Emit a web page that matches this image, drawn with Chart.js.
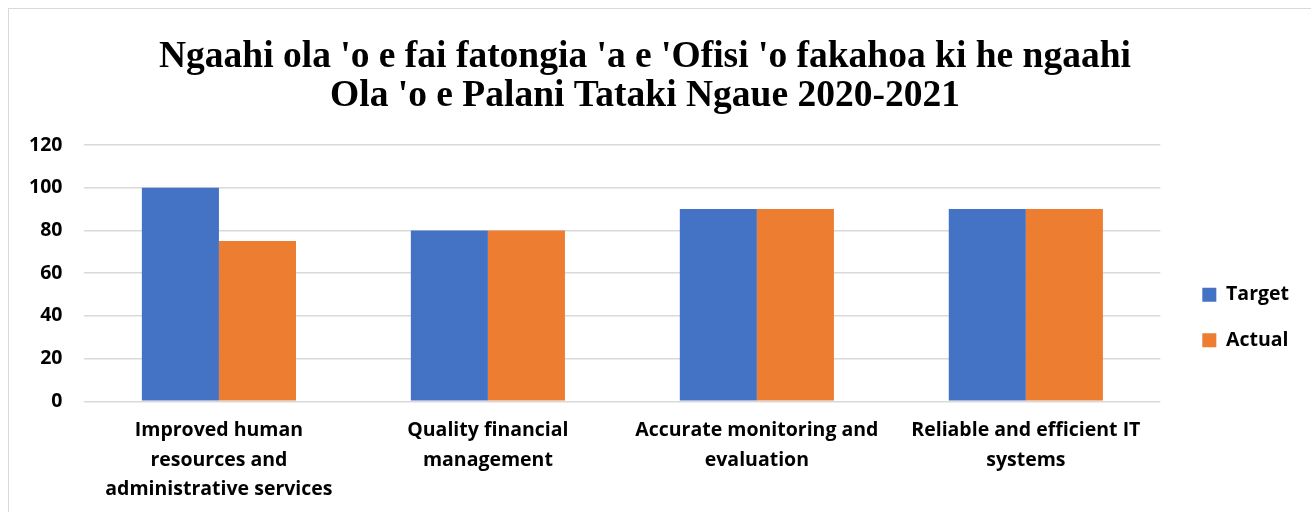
<!DOCTYPE html>
<html>
<head>
<meta charset="utf-8">
<script src="https://cdn.jsdelivr.net/npm/chart.js@4"></script>
<style>
  html, body { margin: 0; padding: 0; background: #fff; }
  #frame { position: absolute; left: 8px; top: 8px; width: 1320px; height: 520px; border: 1px solid #d9d9d9; }
  #wrap { position: absolute; left: 0; top: 0; width: 1311px; height: 512px; }
</style>
</head>
<body>
<div id="frame"></div>
<div id="wrap"><canvas id="chart"></canvas></div>
<script>
// categories and values
const categories = [
    ['Improved human', 'resources and', 'administrative services'],
    ['Quality financial', 'management'],
    ['Accurate monitoring and', 'evaluation'],
    ['Reliable and efficient IT', 'systems']
];
const targetValues = [100, 80, 90, 90];
const actualValues = [75, 80, 90, 90];
const yTicks = [0, 20, 40, 60, 80, 100, 120];

const boldFont = { family: '"Open Sans", sans-serif', size: 19.5, weight: 'bold' };

// push the legend a bit further away from the plot, like the original
const legendNudge = {
    id: 'legendNudge',
    afterLayout(chart) {
        chart.legend.left += 16;
        chart.legend.right += 16;
    }
};

new Chart(document.getElementById('chart'), {
    type: 'bar',
    data: {
        labels: categories,
        datasets: [
            {
                label: 'Target',
                data: targetValues,
                backgroundColor: '#4472C4',
                categoryPercentage: 0.573,
                barPercentage: 1
            },
            {
                label: 'Actual',
                data: actualValues,
                backgroundColor: '#ED7D31',
                categoryPercentage: 0.573,
                barPercentage: 1
            }
        ]
    },
    plugins: [legendNudge],
    options: {
        responsive: true,
        maintainAspectRatio: false,
        animation: false,
        layout: { padding: { left: 7, right: 28, top: 38, bottom: 1 } },
        plugins: {
            title: {
                display: true,
                text: ["Ngaahi ola 'o e fai fatongia 'a e 'Ofisi 'o fakahoa ki he ngaahi", "Ola 'o e Palani Tataki Ngaue 2020-2021"],
                color: '#000',
                font: { family: '"Liberation Serif", serif', size: 37.5, weight: 'bold', lineHeight: 1.04 },
                padding: { top: 0, bottom: 29 }
            },
            legend: {
                position: 'right',
                title: { display: true, text: '', font: { size: 10, lineHeight: 1.2 }, padding: { top: 0, bottom: 74 } },
                labels: {
                    color: '#000',
                    font: boldFont,
                    boxWidth: 14,
                    boxHeight: 14,
                    padding: 26
                }
            },
            tooltip: { enabled: false }
        },
        scales: {
            x: {
                grid: { display: false },
                border: { display: false },
                ticks: { color: '#000', font: { ...boldFont, lineHeight: 1.5 }, maxRotation: 0, autoSkip: false, padding: 7 }
            },
            y: {
                min: 0,
                max: 120,
                afterBuildTicks: axis => { axis.ticks = yTicks.map(v => ({ value: v })); },
                grid: { color: '#d9d9d9', lineWidth: 1.5, drawTicks: false },
                border: { display: false },
                ticks: { color: '#000', font: boldFont, padding: 22 }
            }
        }
    }
});
</script>
</body>
</html>
